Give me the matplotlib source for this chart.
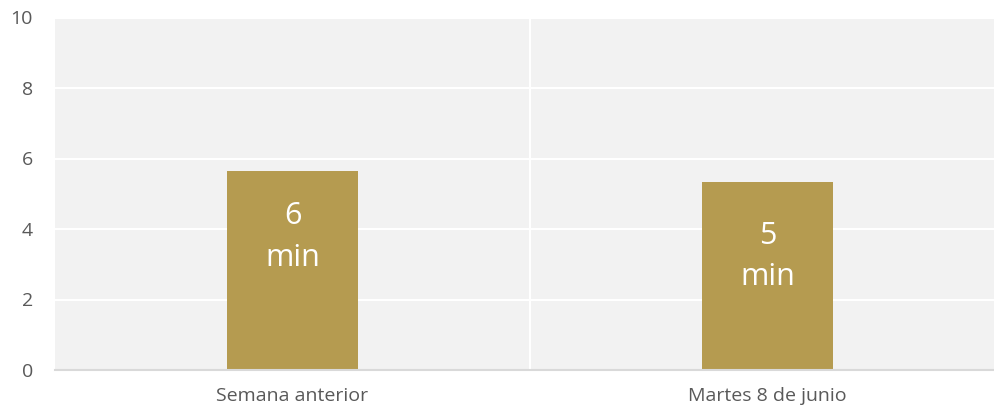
import matplotlib
matplotlib.use("Agg")
import matplotlib.pyplot as plt

categories = ["Semana anterior", "Martes 8 de junio"]
values = [5.65, 5.34]
labels = ["6\nmin", "5\nmin"]
label_y = [3.77, 3.22]
yticks = [0, 2, 4, 6, 8, 10]

plt.rcParams['font.family'] = ['Open Sans', 'DejaVu Sans']

fig = plt.figure(figsize=(9.94, 4.09), dpi=100)
ax = fig.add_axes([55/994, 1 - 370/409, (1005 - 55)/994, (370 - 17.5)/409])
ax.set_facecolor('#f2f2f2')

x = list(range(len(categories)))
ax.bar(x, values, width=0.274, color='#b59b50', zorder=3)
for xi, lab, ly in zip(x, labels, label_y):
    ax.text(xi, ly, lab, ha='center', va='center', color='white', fontsize=22,
            linespacing=1.5, zorder=4)

ax.set_xlim(-0.5, len(categories) - 0.5)
ax.set_ylim(0, 10)
ax.set_yticks(yticks)
ax.set_xticks(x)
ax.set_xticklabels(categories)
ax.tick_params(axis='both', length=0, colors='#595959', labelsize=14)
ax.tick_params(axis='y', pad=16)
ax.tick_params(axis='x', pad=12)
for lab in ax.get_yticklabels():
    lab.set_horizontalalignment('right')

ax.grid(axis='y', color='white', linewidth=1.5, zorder=1)
for b in [0.5]:
    ax.axvline(b, color='white', linewidth=1.5, zorder=1)
for s in ['top', 'right', 'left']:
    ax.spines[s].set_visible(False)
ax.spines['bottom'].set_color('#d9d9d9')
ax.spines['bottom'].set_linewidth(1.5)
ax.spines['bottom'].set_zorder(5)

fig.savefig('out.png', dpi=100)
